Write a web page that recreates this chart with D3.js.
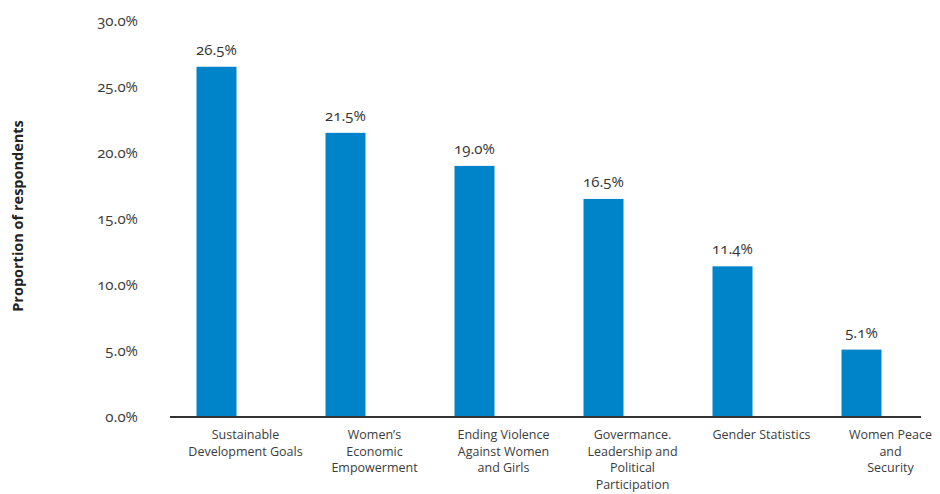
<!DOCTYPE html>
<html>
<head>
<meta charset="utf-8">
<script src="https://cdn.jsdelivr.net/npm/d3@7"></script>
<style>
  html, body { margin: 0; padding: 0; background: #fff; }
  svg { display: block; font-family: "Open Sans", "Noto Sans", sans-serif; }
  .num { font-variant-numeric: oldstyle-nums; }
</style>
</head>
<body>
<svg id="chart" width="940" height="494"></svg>
<script>
// Survey topics and share of respondents (%)
const categories = [
  "Sustainable Development Goals",
  "Women's Economic Empowerment",
  "Ending Violence Against Women and Girls",
  "Govermance. Leadership and Political Participation",
  "Gender Statistics",
  "Women Peace and Security"
];
const categoryLines = [
  ["Sustainable", "Development Goals"],
  ["Women\u2019s", "Economic", "Empowerment"],
  ["Ending Violence", "Against Women", "and Girls"],
  ["Govermance.", "Leadership and", "Political", "Participation"],
  ["Gender Statistics"],
  ["Women Peace", "and", "Security"]
];
const values = [26.5, 21.5, 19.0, 16.5, 11.4, 5.1];
const yTicks = [0, 5, 10, 15, 20, 25, 30];
const yTitle = "Proportion of respondents";

const svg = d3.select("#chart");
const fmt = v => v.toFixed(1) + "%";

const x = d3.scaleBand()
  .domain(categories)
  .range([152, 926])
  .paddingInner(0.69)
  .paddingOuter(0.345);

const y = d3.scaleLinear().domain([0, 30]).range([417, 20.5]);

// y axis: labels only, no line or tick marks
const yAxis = svg.append("g")
  .attr("transform", "translate(138,0)")
  .call(d3.axisLeft(y).tickValues(yTicks).tickFormat(d => d.toFixed(1) + "%").tickSize(0).tickPadding(0));
yAxis.select(".domain").remove();
yAxis.selectAll("text")
  .attr("class", "num")
  .attr("fill", "#3a3a3a")
  .style("font-size", "15px")
  .style("font-family", "\"Open Sans\", sans-serif");

// y axis title
svg.append("text")
  .attr("transform", "translate(23,216) rotate(-90)")
  .attr("text-anchor", "middle")
  .attr("fill", "#222")
  .style("font-size", "14.5px")
  .style("font-weight", "700")
  .text(yTitle);

// bars
svg.append("g").selectAll("rect")
  .data(values)
  .join("rect")
  .attr("x", (d, i) => x(categories[i]))
  .attr("width", x.bandwidth())
  .attr("y", d => y(d))
  .attr("height", d => y(0) - y(d))
  .attr("fill", "#0084c9");

// value labels
svg.append("g").selectAll("text")
  .data(values)
  .join("text")
  .attr("class", "num")
  .attr("x", (d, i) => x(categories[i]) + x.bandwidth() / 2)
  .attr("y", d => y(d) - 12)
  .attr("text-anchor", "middle")
  .attr("fill", "#333")
  .style("font-size", "15px")
  .text(d => fmt(d));

// baseline
svg.append("line")
  .attr("x1", 170).attr("x2", 921)
  .attr("y1", y(0)).attr("y2", y(0))
  .attr("stroke", "#333")
  .attr("stroke-width", 2);

// category labels
const labels = svg.append("g").selectAll("text")
  .data(categories)
  .join("text")
  .attr("text-anchor", "middle")
  .attr("fill", "#3c3c3c")
  .style("font-size", "12.5px")
  .attr("transform", d => `translate(${x(d) + x.bandwidth() / 2 + 29},439)`);
labels.each(function(d, i) {
  d3.select(this).selectAll("tspan")
    .data(categoryLines[i])
    .join("tspan")
    .attr("x", 0)
    .attr("dy", (t, j) => j === 0 ? 0 : 16.5)
    .text(t => t);
});
</script>
</body>
</html>
